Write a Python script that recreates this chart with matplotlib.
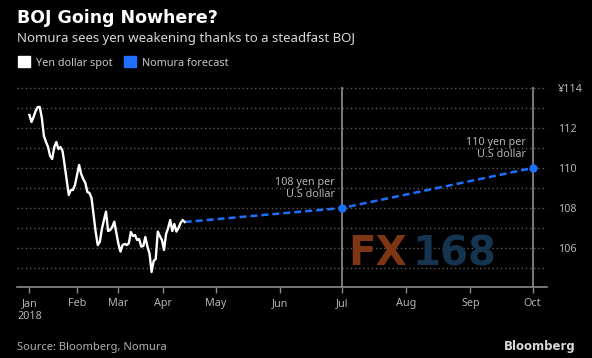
import matplotlib
matplotlib.use("Agg")
import matplotlib.pyplot as plt
import matplotlib.dates as mdates
import numpy as np
import pandas as pd

plt.rcParams['font.family'] = ['Noto Sans', 'DejaVu Sans']
bold_font = ['DejaVu Sans']

# yen per dollar, one value per trading day from the start of 2018
spot_start = '2018-01-01'
spot = [112.65, 112.3, 112.55, 112.85, 113.05, 113.05, 112.5, 111.6, 111.3, 111.05,
        110.6, 110.45, 111.05, 111.3, 110.95, 111.05, 110.85, 110.15, 109.4, 108.65,
        108.9, 108.9, 109.15, 109.65, 110.15, 109.7, 109.45, 109.25, 108.8, 108.75,
        108.5, 107.65, 106.8, 106.15, 106.3, 106.95, 107.4, 107.82, 106.85, 106.9,
        107.05, 107.32, 106.75, 106.2, 105.82, 106.15, 106.2, 106.15, 106.23, 106.8,
        106.6, 106.65, 106.4, 106.45, 106.07, 106.1, 106.55, 106.07, 105.73, 104.8,
        105.35, 105.45, 106.82, 106.6, 106.4, 105.9, 106.7, 107.0, 107.4, 106.85,
        107.2, 106.82, 107.0, 107.25, 107.4, 107.3]

fc_dates = ['2018-04-16', '2018-07-01', '2018-10-01']
fc_vals = [107.3, 108.0, 110.0]
fc_labels = ['108 yen per\nU.S dollar', '110 yen per\nU.S dollar']

months = ['2018-01-01', '2018-02-01', '2018-03-01', '2018-04-01', '2018-05-01',
          '2018-06-01', '2018-07-01', '2018-08-01', '2018-09-01', '2018-10-01']
month_labels = ['Jan\n2018', 'Feb', 'Mar', 'Apr', 'May', 'Jun', 'Jul', 'Aug', 'Sep', 'Oct']
yticks = [106, 108, 110, 112, 114]
ytick_labels = ['106', '108', '110', '112', '¥114']

blue = '#1f6fff'
grey = '#b4b4b4'

spot_dates = pd.bdate_range(spot_start, periods=len(spot))

# x axis: trading days for the history, calendar days for the forecast
hist_days = pd.bdate_range('2017-12-01', spot_dates[-1])
fut_days = pd.date_range(spot_dates[-1] + pd.Timedelta(days=1), '2018-10-31')
tab_d = mdates.date2num(hist_days.append(fut_days))
tab_u = np.arange(len(tab_d), dtype=float)

def fwd(x):
    return np.interp(x, tab_d, tab_u)

def inv(u):
    return np.interp(u, tab_u, tab_d)

fig = plt.figure(figsize=(5.92, 3.58), dpi=100, facecolor='black')
ax = fig.add_axes([17/592, 1-287/358, 530/592, 200/358], facecolor='black')
ax.set_xscale('function', functions=(fwd, inv))

sx = mdates.date2num(spot_dates)
fx = mdates.date2num(pd.to_datetime(fc_dates))
mx = mdates.date2num(pd.to_datetime(months))

for y in range(105, 115):
    ax.axhline(y, color='#5a5a5a', lw=1.0, ls=(0, (1, 2)), zorder=1)
for d in fx[1:]:
    ax.axvline(d, color='#9a9a9a', lw=1.1, zorder=2)

ax.plot(sx, spot, color='white', lw=1.7, zorder=4, solid_joinstyle='round')
ax.plot(fx, fc_vals, color=blue, lw=1.8, ls=(0, (2.8, 1.6)), zorder=3)
ax.plot(fx[1:], fc_vals[1:], 'o', color=blue, ms=5, zorder=5)

for d, v, t in zip(fx[1:], fc_vals[1:], fc_labels):
    ax.annotate(t, (d, v), xytext=(-5, 6), textcoords='offset points',
                ha='right', va='bottom', color=grey, fontsize=7.8, linespacing=1.05)

ax.set_xlim(mdates.date2num(pd.Timestamp('2017-12-22')), mdates.date2num(pd.Timestamp('2018-10-08')))
ax.set_ylim(104.05, 114.05)

ax.set_xticks(mx)
ax.set_xticklabels(month_labels)
ax.set_xticks([], minor=True)
ax.yaxis.tick_right()
ax.set_yticks(yticks)
ax.set_yticklabels(ytick_labels)
ax.tick_params(axis='x', colors='#8a8a8a', length=4, width=1, labelcolor=grey, labelsize=7.8, pad=4)
ax.tick_params(axis='y', length=0, labelcolor=grey, labelsize=7.8, pad=8)

for s in ['top', 'left', 'right']:
    ax.spines[s].set_visible(False)
ax.spines['bottom'].set_color('#8a8a8a')
ax.spines['bottom'].set_linewidth(1.2)

# watermark
fig.text(348/592, 1-265/358, 'FX', color='#7e3514', fontsize=29, fontweight='bold',
         family=bold_font, ha='left', va='baseline')
fig.text(412/592, 1-265/358, '168', color='#15344f', fontsize=29, fontweight='bold',
         family=bold_font, ha='left', va='baseline')

fig.text(17/592, 1-23/358, 'BOJ Going Nowhere?', color='white', fontsize=12.5, fontweight='bold',
         family=bold_font, ha='left', va='baseline')
fig.text(17/592, 1-42/358, 'Nomura sees yen weakening thanks to a steadfast BOJ', color='#d8d8d8',
         fontsize=9.5, ha='left', va='baseline')

fig.patches.append(plt.Rectangle((18/592, 1-67/358), 12/592, 11/358, transform=fig.transFigure, color='white'))
fig.text(36/592, 1-66/358, 'Yen dollar spot', color='#c8c8c8', fontsize=7.8, ha='left', va='baseline')
fig.patches.append(plt.Rectangle((124/592, 1-67/358), 12/592, 11/358, transform=fig.transFigure, color=blue))
fig.text(142/592, 1-66/358, 'Nomura forecast', color='#c8c8c8', fontsize=7.8, ha='left', va='baseline')

fig.text(17/592, 1-350/358, 'Source: Bloomberg, Nomura', color='#b0b0b0', fontsize=8, ha='left', va='baseline')
fig.text(576/592, 1-350/358, 'Bloomberg', color='#d8d8d8', fontsize=8.5, fontweight='bold',
         family=bold_font, ha='right', va='baseline')

fig.savefig('out.png', dpi=100, facecolor='black')
